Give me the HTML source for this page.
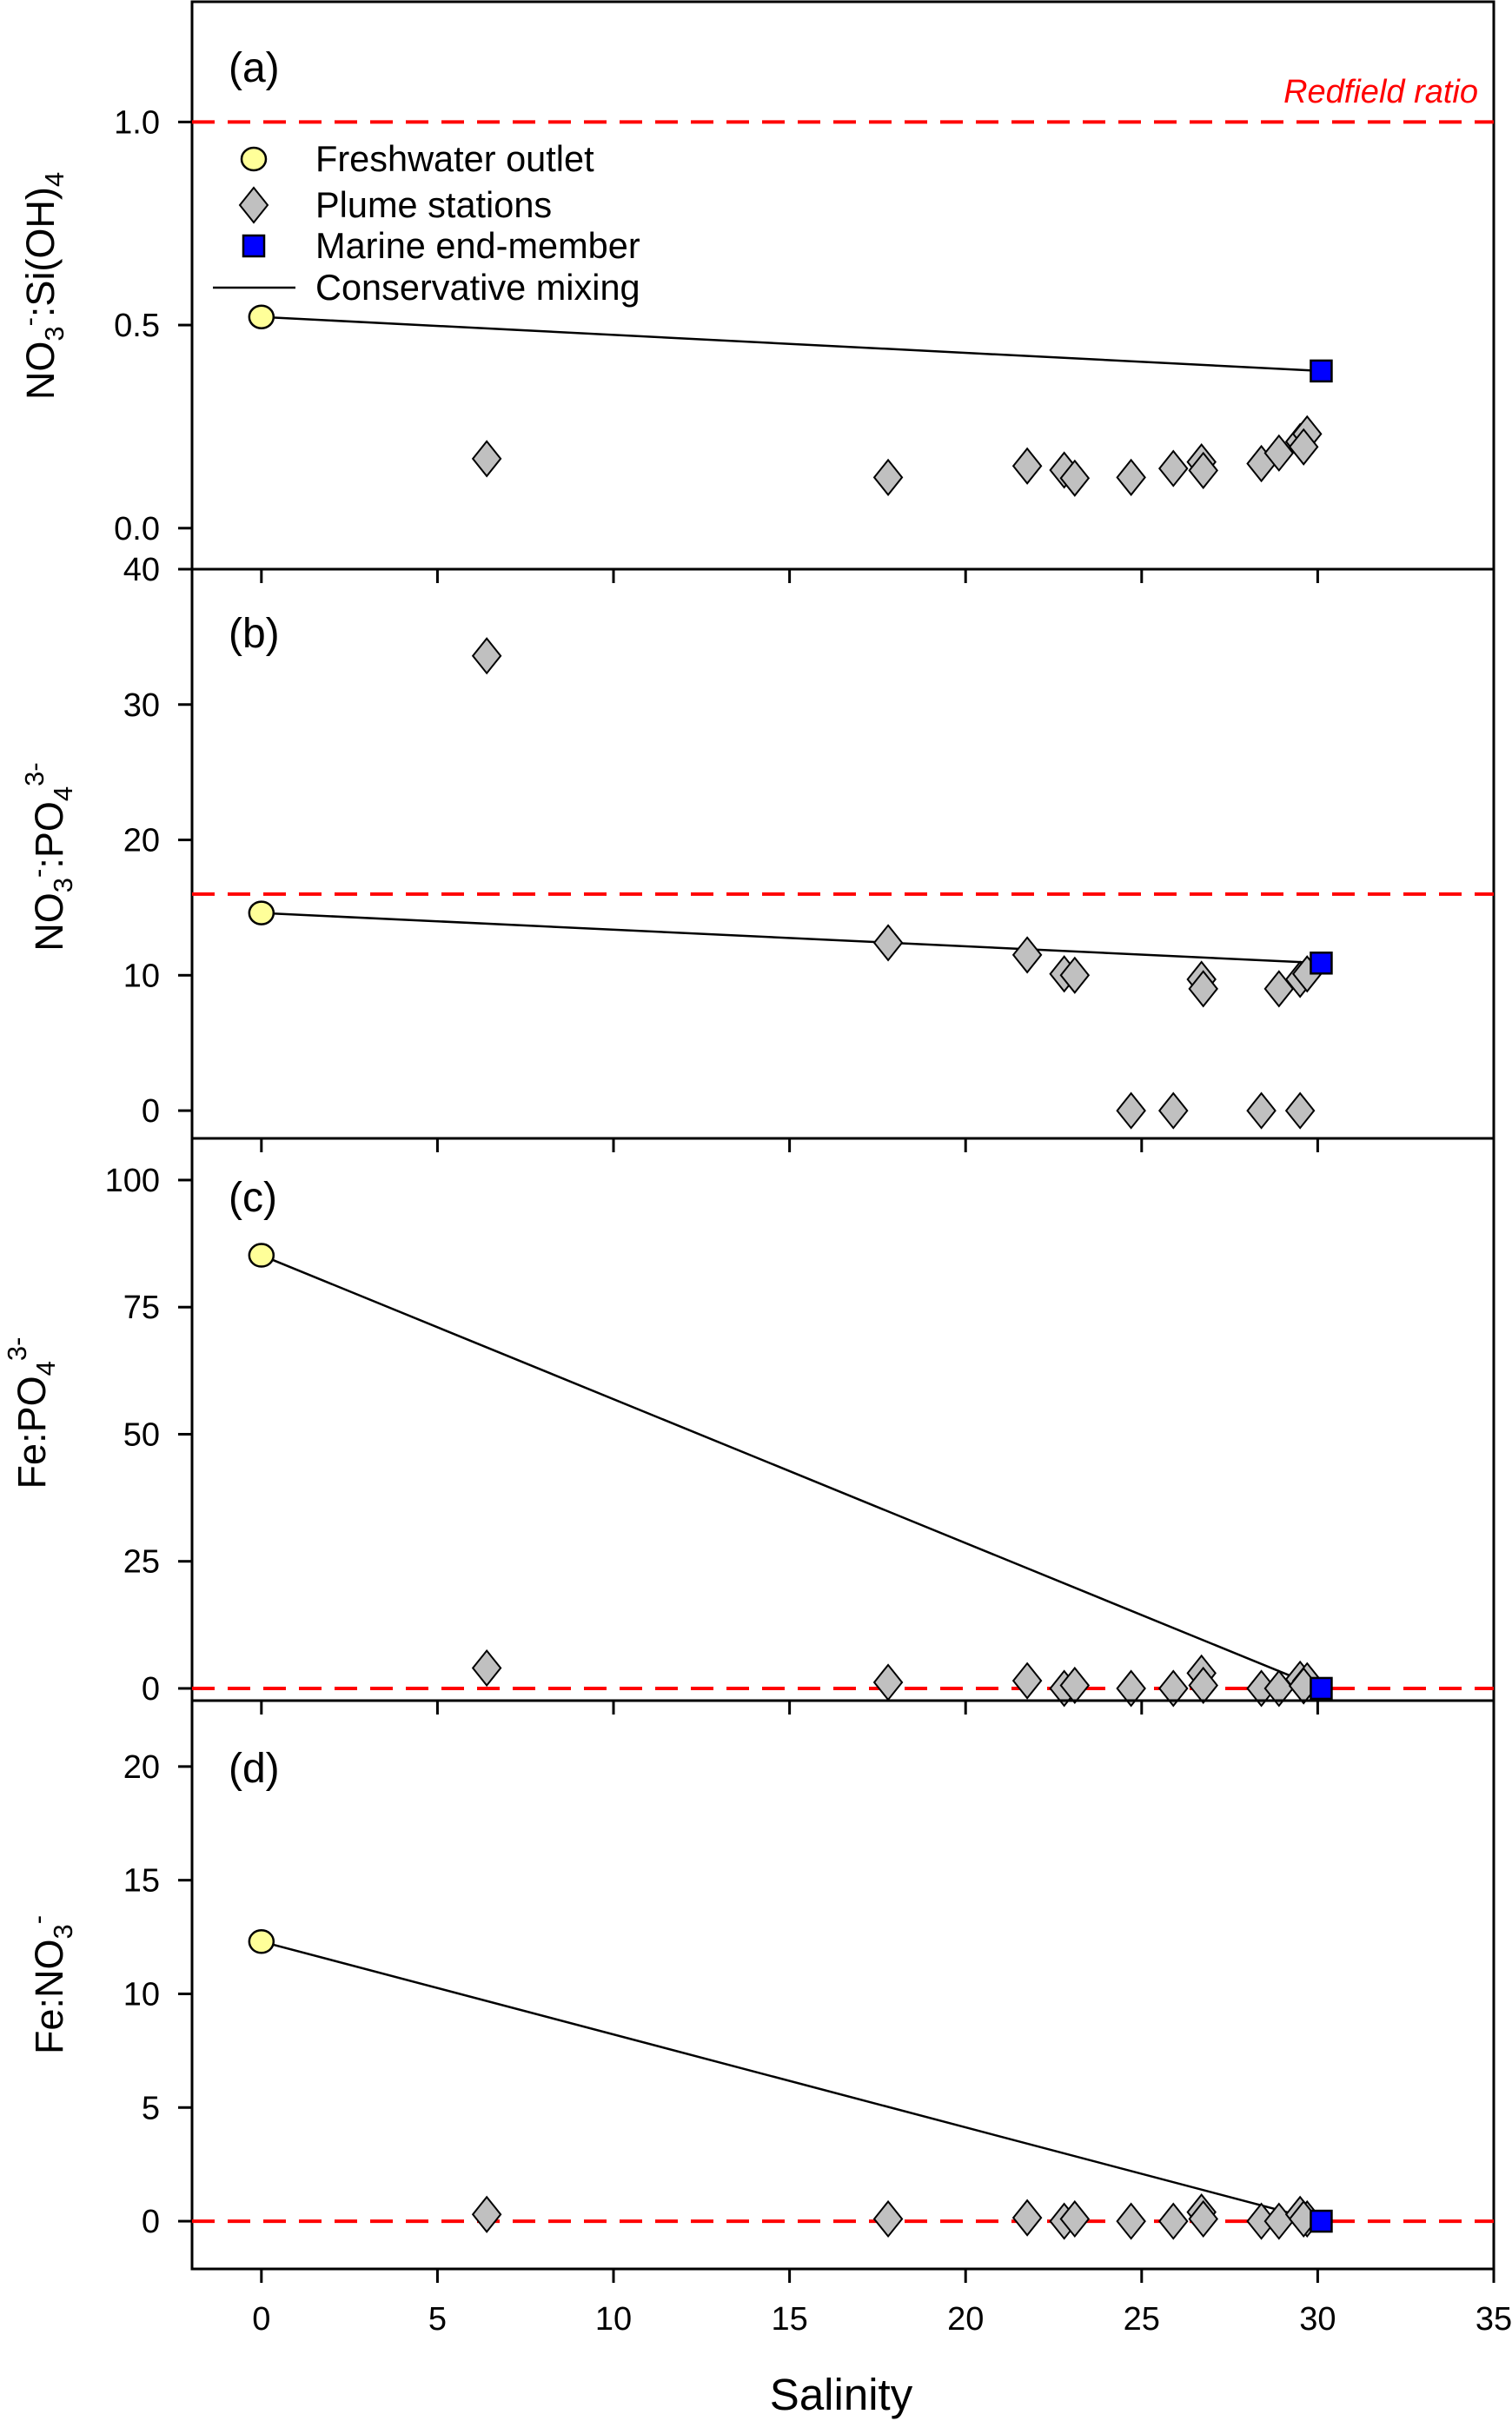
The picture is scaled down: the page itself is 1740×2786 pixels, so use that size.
<!DOCTYPE html>
<html><head><meta charset="utf-8"><style>
html,body{margin:0;padding:0;background:#fff}
svg{display:block}
text{font-family:"Liberation Sans",Arial,sans-serif;fill:#000}
</style></head><body>
<svg id="chart" width="1740" height="2786" viewBox="0 0 1740 2786" xmlns="http://www.w3.org/2000/svg"></svg>
<script>
const salinity = [6.4,17.8,21.75,22.8,23.1,24.7,25.9,26.7,26.75,28.4,28.9,29.5,29.7,29.6];
const ratioA = [0.171,0.125,0.153,0.143,0.123,0.125,0.147,0.163,0.142,0.159,0.185,0.213,0.232,0.2];
const salB = [6.4,17.8,21.75,22.8,23.1,26.7,26.75,28.9,29.5,29.7,24.7,25.9,28.4,29.5];
const ratioB = [33.6,12.4,11.5,10.1,10.0,9.7,9.0,9.0,9.7,10.1,0,0,0,0];
const ratioC = [4,1.2,1.5,0,0.6,0,0,3,0.6,0,0,1.8,1.5,0.5];
const ratioD = [0.3,0.1,0.15,0,0.1,0,0,0.4,0.1,0,0,0.3,0.1,0.1];
const freshSal = 0, marineSal = 30.1;
const freshVals = [0.52,14.6,85.2,12.3];
const marineVals = [0.387,10.9,0,0];
const redfield = [1.0,16,0,0];
const xTicks = [0,5,10,15,20,25,30,35];
const yTicksA = [0.0,0.5,1.0];
const yTicksB = [0,10,20,30,40];
const yTicksC = [0,25,50,75,100];
const yTicksD = [0,5,10,15,20];
const panelLabels = ['(a)','(b)','(c)','(d)'];

const NS='http://www.w3.org/2000/svg';
const svg=document.getElementById('chart');
const L=221,R=1719;
const xmin=-1.97,xmax=35;
const X=v=>L+(v-xmin)/(xmax-xmin)*(R-L);
function mk(tag,attrs,parent){const e=document.createElementNS(NS,tag);for(const k in attrs)e.setAttribute(k,attrs[k]);(parent||svg).appendChild(e);return e;}

const panels=[
 {top:2,bot:655,ymin:-0.101,ymax:1.296,ticks:yTicksA,fmt:v=>v.toFixed(1),xs:salinity,ys:ratioA},
 {top:655,bot:1310,ymin:-2.05,ymax:40,ticks:yTicksB,fmt:v=>String(v),xs:salB,ys:ratioB},
 {top:1310,bot:1957,ymin:-2.4,ymax:108.2,ticks:yTicksC,fmt:v=>String(v),xs:salinity,ys:ratioC},
 {top:1957,bot:2611,ymin:-2.1,ymax:22.9,ticks:yTicksD,fmt:v=>String(v),xs:salinity,ys:ratioD}
];
const names=['a','b','c','d'];
panels.forEach((p,i)=>{
 const g=mk('g',{});
 
 
 const Y=v=>p.bot-(v-p.ymin)/(p.ymax-p.ymin)*(p.bot-p.top);
 const fr=mk('rect',{x:L,y:p.top,width:R-L,height:p.bot-p.top,fill:'none',stroke:'#000','stroke-width':3},g);
 
 
 xTicks.forEach(t=>{const tk=mk('line',{x1:X(t),x2:X(t),y1:p.bot,y2:p.bot+16,stroke:'#000','stroke-width':3},g);
  
  });
 p.ticks.forEach(t=>{const y=Y(t);
  const tk=mk('line',{x1:L-16,x2:L,y1:y,y2:y,stroke:'#000','stroke-width':3},g);
  
  
  const tl=mk('text',{x:184,y:y+13,'text-anchor':'end','font-size':38},g);tl.textContent=p.fmt(t);
  
  });
 const rf=mk('line',{x1:L,x2:R,y1:Y(redfield[i]),y2:Y(redfield[i]),stroke:'#ff0000','stroke-width':4,'stroke-dasharray':'26 15'},g);
 
 
 const ml=mk('line',{x1:X(freshSal),y1:Y(freshVals[i]),x2:X(marineSal),y2:Y(marineVals[i]),stroke:'#000','stroke-width':2.5},g);
 
 
 p.xs.forEach((s,j)=>{const cx=X(s),cy=Y(p.ys[j]);
  const d=mk('polygon',{points:`${cx},${cy-20} ${cx+16},${cy} ${cx},${cy+20} ${cx-16},${cy}`,fill:'#c0c0c0',stroke:'#000','stroke-width':2},g);
  
  });
 const fc=mk('ellipse',{cx:X(freshSal),cy:Y(freshVals[i]),rx:14,ry:13,fill:'#ffff99',stroke:'#000','stroke-width':2.5},g);
 
 
 const mx=X(marineSal),my=Y(marineVals[i]);
 const ms=mk('rect',{x:mx-12,y:my-12,width:24,height:24,fill:'#0000ff',stroke:'#000','stroke-width':2.5},g);
 
 
 const pl=mk('text',{x:263,y:p.top+(i==0?92:i==1?90:i==2?84:94),'font-size':48},g);pl.textContent=panelLabels[i];
 
 
});
xTicks.forEach(t=>{const tl=mk('text',{x:X(t),y:2681,'text-anchor':'middle','font-size':38});tl.textContent=t;
 
 });
</script>
<svg style="position:absolute;left:0;top:0" width="1740" height="2786">
<text x="968" y="2773" text-anchor="middle" font-size="51">Salinity</text>
<text x="1701" y="118" text-anchor="end" font-size="38" font-style="italic" fill="#ff0000" style="fill:#ff0000">Redfield ratio</text>
<g>
<ellipse cx="292" cy="183" rx="14" ry="13" fill="#ffff99" stroke="#000" stroke-width="2.5"/>
<text x="363" y="197" font-size="41.5">Freshwater outlet</text>
<polygon points="292,216 308,236 292,256 276,236" fill="#c0c0c0" stroke="#000" stroke-width="2"/>
<text x="363" y="250" font-size="41.5">Plume stations</text>
<rect x="280" y="271" width="24" height="24" fill="#0000ff" stroke="#000" stroke-width="2.5"/>
<text x="363" y="297" font-size="41.5">Marine end-member</text>
<line x1="245" x2="340" y1="331" y2="331" stroke="#000" stroke-width="2.5"/>
<text x="363" y="345" font-size="41.5">Conservative mixing</text>
</g>
<text transform="translate(62,329) rotate(-90)" text-anchor="middle" font-size="45">NO<tspan font-size="31" dy="11">3</tspan><tspan font-size="31" dy="-29">-</tspan><tspan dy="18">:Si(OH)</tspan><tspan font-size="31" dy="11">4</tspan></text>
<text transform="translate(72,986) rotate(-90)" text-anchor="middle" font-size="45">NO<tspan font-size="31" dy="11">3</tspan><tspan font-size="31" dy="-29">-</tspan><tspan dy="18">:PO</tspan><tspan font-size="31" dy="11">4</tspan><tspan font-size="31" dy="-33">3-</tspan></text>
<text transform="translate(52,1626) rotate(-90)" text-anchor="middle" font-size="45">Fe:PO<tspan font-size="31" dy="11">4</tspan><tspan font-size="31" dy="-33">3-</tspan></text>
<text transform="translate(72,2284) rotate(-90)" text-anchor="middle" font-size="45">Fe:NO<tspan font-size="31" dy="11">3</tspan><tspan font-size="31" dy="-29">-</tspan></text>
</svg>
</body></html>
